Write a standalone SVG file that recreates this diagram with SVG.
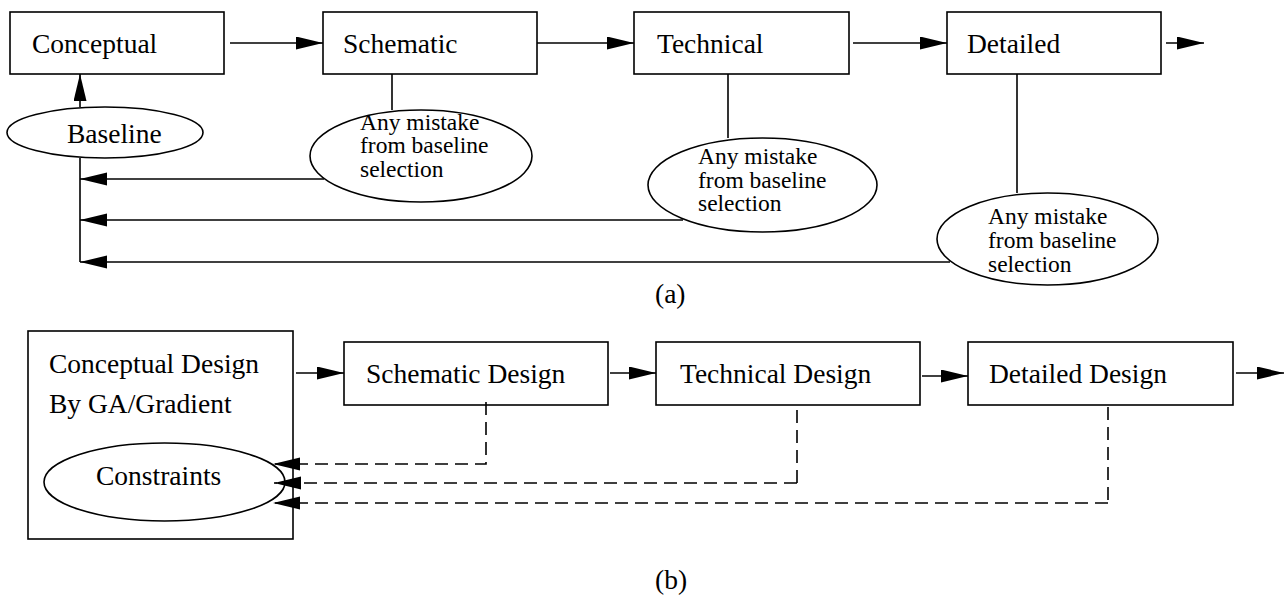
<svg xmlns="http://www.w3.org/2000/svg" width="1288" height="597" viewBox="0 0 1288 597">
  <style>
    .box { fill: #fff; stroke: #000; stroke-width: 1.6; }
    .oval { fill: #fff; stroke: #000; stroke-width: 1.6; }
    .lbl { font-family: "Liberation Serif", "Times New Roman", serif; font-size: 27.5px; fill: #000; }
    .note { font-family: "Liberation Serif", "Times New Roman", serif; font-size: 23.5px; fill: #000; }
    .wire { fill: none; stroke: #000; stroke-width: 1.6; }
    .dash { fill: none; stroke: #000; stroke-width: 1.6; stroke-dasharray: 13 7; }
  </style>
  <defs>
    <marker id="head" markerUnits="userSpaceOnUse" markerWidth="28" markerHeight="14" refX="27" refY="6.5" orient="auto">
      <path d="M0,0 L27,6.5 L0,13 Z" fill="#000"/>
    </marker>
  </defs>
  <rect width="1288" height="597" fill="#fff"/>

  <!-- (a) process with baseline feedback -->
  <g id="connectors-a">
    <line class="wire" x1="230" y1="43" x2="323" y2="43" marker-end="url(#head)"/>
    <line class="wire" x1="533" y1="43" x2="634" y2="43" marker-end="url(#head)"/>
    <line class="wire" x1="853" y1="43" x2="947" y2="43" marker-end="url(#head)"/>
    <line class="wire" x1="1166" y1="43" x2="1204" y2="43" marker-end="url(#head)"/>
    <line class="wire" x1="80" y1="107" x2="80" y2="74" marker-end="url(#head)"/>
    <line class="wire" x1="80" y1="158" x2="80" y2="262"/>
    <line class="wire" x1="392" y1="74" x2="392" y2="110"/>
    <line class="wire" x1="728" y1="74" x2="728" y2="138"/>
    <line class="wire" x1="1017" y1="74" x2="1017" y2="193"/>
    <line class="wire" x1="324" y1="179" x2="80" y2="179" marker-end="url(#head)"/>
    <line class="wire" x1="683" y1="220" x2="80" y2="220" marker-end="url(#head)"/>
    <line class="wire" x1="950" y1="262" x2="80" y2="262" marker-end="url(#head)"/>
  </g>

  <g id="conceptual">
    <rect class="box" x="10" y="12" width="214" height="62"/>
    <text class="lbl" x="32" y="53">Conceptual</text>
  </g>
  <g id="schematic">
    <rect class="box" x="323" y="12" width="214" height="62"/>
    <text class="lbl" x="343" y="53">Schematic</text>
  </g>
  <g id="technical">
    <rect class="box" x="634" y="12" width="215" height="62"/>
    <text class="lbl" x="657" y="53">Technical</text>
  </g>
  <g id="detailed">
    <rect class="box" x="947" y="12" width="214" height="62"/>
    <text class="lbl" x="967" y="53">Detailed</text>
  </g>
  <g id="baseline">
    <ellipse class="oval" cx="105" cy="132.5" rx="98" ry="25.5"/>
    <text class="lbl" x="67" y="143">Baseline</text>
  </g>
  <g id="mistake-schematic">
    <ellipse class="oval" cx="421" cy="156" rx="111" ry="46"/>
    <text class="note" x="360" y="129.5">Any mistake<tspan x="360" dy="23.5">from baseline</tspan><tspan x="360" dy="23.5">selection</tspan></text>
  </g>
  <g id="mistake-technical">
    <ellipse class="oval" cx="762.5" cy="185" rx="114.5" ry="47"/>
    <text class="note" x="698" y="164">Any mistake<tspan x="698" dy="23.5">from baseline</tspan><tspan x="698" dy="23.5">selection</tspan></text>
  </g>
  <g id="mistake-detailed">
    <ellipse class="oval" cx="1047.5" cy="239" rx="110.5" ry="46"/>
    <text class="note" x="988" y="224">Any mistake<tspan x="988" dy="24">from baseline</tspan><tspan x="988" dy="24">selection</tspan></text>
  </g>
  <text id="caption-a" class="lbl" x="655" y="303">(a)</text>

  <!-- (b) process with constraint feedback -->
  <g id="conceptual-design">
    <rect class="box" x="28" y="331" width="265" height="208"/>
    <text class="lbl" x="49" y="373">Conceptual Design</text>
    <text class="lbl" x="49" y="413">By GA/Gradient</text>
  </g>
  <g id="constraints">
    <ellipse class="oval" cx="164.5" cy="482" rx="120.5" ry="39"/>
    <text class="lbl" x="96" y="485">Constraints</text>
  </g>
  <g id="schematic-design">
    <rect class="box" x="344" y="342" width="264" height="63"/>
    <text class="lbl" x="366" y="383">Schematic Design</text>
  </g>
  <g id="technical-design">
    <rect class="box" x="656" y="342" width="264" height="63"/>
    <text class="lbl" x="680" y="383">Technical Design</text>
  </g>
  <g id="detailed-design">
    <rect class="box" x="968" y="342" width="265" height="63"/>
    <text class="lbl" x="989" y="383">Detailed Design</text>
  </g>

  <g id="connectors-b">
    <line class="wire" x1="296" y1="373" x2="344" y2="373" marker-end="url(#head)"/>
    <line class="wire" x1="610" y1="373" x2="656" y2="373" marker-end="url(#head)"/>
    <line class="wire" x1="922" y1="376" x2="968" y2="376" marker-end="url(#head)"/>
    <line class="wire" x1="1236" y1="373" x2="1284" y2="373" marker-end="url(#head)"/>
    <path class="dash" d="M486,402 L486,464 L273,464" marker-end="url(#head)"/>
    <path class="dash" d="M797,410 L797,489 M797,483 L274,483" marker-end="url(#head)"/>
    <path class="dash" d="M1108,407 L1108,505 M1108,503 L273,503" marker-end="url(#head)"/>
  </g>
  <text id="caption-b" class="lbl" x="655" y="589">(b)</text>
</svg>
